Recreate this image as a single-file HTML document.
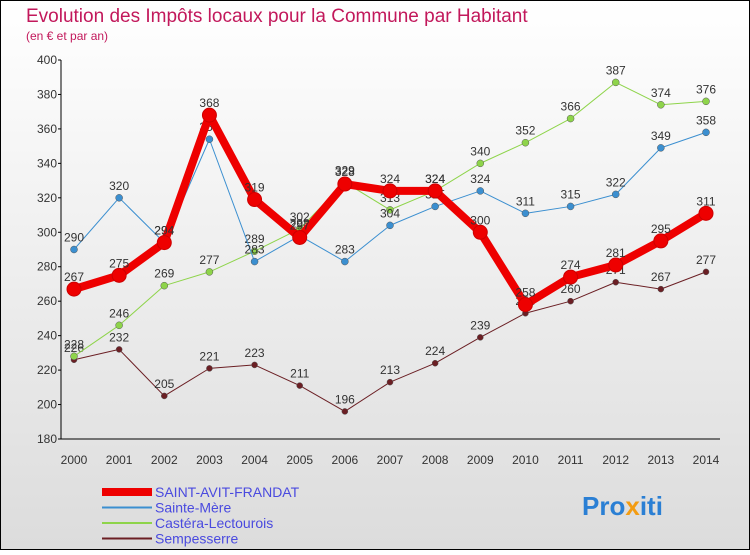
<!DOCTYPE html>
<html><head><meta charset="utf-8"><style>
body{margin:0;width:750px;height:550px;overflow:hidden;font-family:"Liberation Sans","DejaVu Sans",sans-serif}
</style></head><body>
<svg width="750" height="550" xmlns="http://www.w3.org/2000/svg">
<defs><linearGradient id="bg" x1="0" y1="0" x2="0" y2="1"><stop offset="0" stop-color="#ffffff"/><stop offset="1" stop-color="#dcdcdc"/></linearGradient></defs>
<rect x="0.5" y="0.5" width="749" height="549" fill="url(#bg)" stroke="#000"/>
<text x="26" y="22" font-size="19" fill="#c2185b">Evolution des Impôts locaux pour la Commune par Habitant</text>
<text x="26" y="40" font-size="12" fill="#c2185b">(en € et par an)</text>
<g id="axes"></g>
<g id="series"></g>
<g id="legend"></g>
<text x="582" y="515" font-size="26" font-weight="bold"><tspan fill="#2a7fd4">Pro</tspan><tspan fill="#f39c12">x</tspan><tspan fill="#2a7fd4">iti</tspan></text>
</svg>
<script>
const years=[2000,2001,2002,2003,2004,2005,2006,2007,2008,2009,2010,2011,2012,2013,2014];
const yTicks=[180,200,220,240,260,280,300,320,340,360,380,400];
const saintAvit=[267,275,294,368,319,297,328,324,324,300,258,274,281,295,311];
const sainteMere=[290,320,294,354,283,298,283,304,315,324,311,315,322,349,358];
const castera=[228,246,269,277,289,302,329,313,324,340,352,366,387,374,376];
const sempesserre=[226,232,205,221,223,211,196,213,224,239,253,260,271,267,277];
const NS='http://www.w3.org/2000/svg';
const x=i=>74+i*(632/14);
const y=v=>439-(v-180)*(379/220);
function mk(tag,attrs,parent){const e=document.createElementNS(NS,tag);for(const k in attrs)e.setAttribute(k,attrs[k]);parent.appendChild(e);return e;}
const axes=document.getElementById('axes');
let a=mk('line',{x1:61,y1:60,x2:61,y2:439,stroke:'#000'},axes);


a=mk('line',{x1:61,y1:439,x2:720,y2:439,stroke:'#000'},axes);


yTicks.forEach(t=>{
 const l=mk('line',{x1:58,y1:y(t),x2:61,y2:y(t),stroke:'#000'},axes);
 
 
 const tx=mk('text',{x:57,y:y(t)+4,'font-size':12,'text-anchor':'end',fill:'#333'},axes);
 tx.textContent=t;
 
 
});
years.forEach((yr,i)=>{
 const tx=mk('text',{x:x(i),y:464,'font-size':12,'text-anchor':'middle',fill:'#333'},axes);
 tx.textContent=yr;
 
 
});
const series=[
 {name:'sempesserre',vals:sempesserre,color:'#6b1f24',w:1,r:3,label:'Sempesserre'},
 {name:'castera-lectourois',vals:castera,color:'#8ed44a',w:1,r:3.5,label:'Castéra-Lectourois'},
 {name:'sainte-mere',vals:sainteMere,color:'#3b8fd0',w:1,r:3.5,label:'Sainte-Mère'},
 {name:'saint-avit-frandat',vals:saintAvit,color:'#ee0000',w:8,r:7,label:'SAINT-AVIT-FRANDAT'}
];
const sg=document.getElementById('series');
series.forEach(s=>{
 const g=mk('g',{},sg);
 
 
 const p=mk('polyline',{points:s.vals.map((v,i)=>x(i)+','+y(v)).join(' '),fill:'none',stroke:s.color,'stroke-width':s.w,'stroke-linejoin':'round'},g);
 
 
 s.vals.forEach((v,i)=>{
  const c=mk('circle',{cx:x(i),cy:y(v),r:s.r,fill:s.color,stroke:s.w>1?'#c00':'#555','stroke-width':s.w>1?1:0.5},g);
  
  
  const t=mk('text',{x:x(i),y:y(v)-8,'font-size':12,'text-anchor':'middle',fill:'#333'},g);
  t.textContent=v;
  
  
 });
});
const lg=document.getElementById('legend');
[series[3],series[2],series[1],series[0]].forEach((s,k)=>{
 const yy=492+k*15.5;
 const g=mk('g',{},lg);
 
 
 mk('line',{x1:102,y1:yy,x2:152,y2:yy,stroke:s.color,'stroke-width':s.w>1?8:2},g);
 const t=mk('text',{x:155,y:yy+5,'font-size':14,fill:'#4a4adf'},g);
 t.textContent=s.label;
});
</script>
</body></html>
